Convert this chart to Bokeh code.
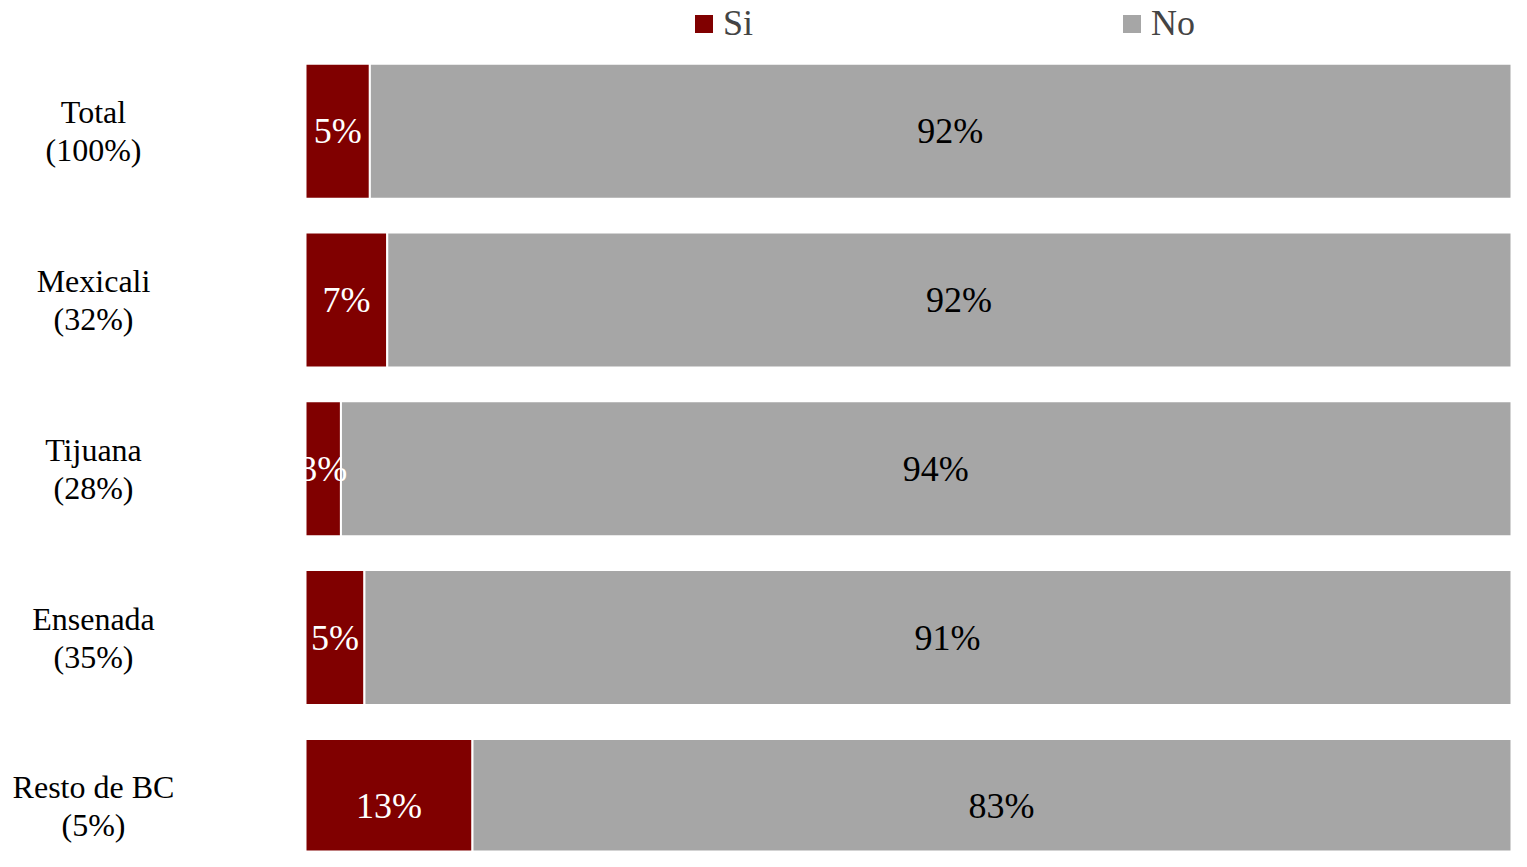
from bokeh.plotting import figure
from bokeh.models import ColumnDataSource, Range1d, Legend, LegendItem
from bokeh.core.properties import value
from bokeh.embed import file_html
from bokeh.resources import INLINE

# ---- data ----
categories = ["Total", "Mexicali", "Tijuana", "Ensenada", "Resto de BC"]
sample_share = [100, 32, 28, 35, 5]
si = [5.1, 6.6, 2.8, 4.6, 13.1]
no = [92.0, 92.3, 94.0, 91.0, 83.0]
series = ["Si", "No"]
colors = ["#800000", "#A6A6A6"]

rows = list(range(len(categories)))
si_end = [s / (s + n) * 100 for s, n in zip(si, no)]
src = ColumnDataSource(dict(
    row=rows,
    si_end=si_end,
    si_mid=[e / 2 for e in si_end],
    no_mid=[(e + 100) / 2 for e in si_end],
    si_label=[f"{round(v)}%" for v in si],
    no_label=[f"{round(v)}%" for v in no],
    cat_label=[f"{c}\n({w}%)" for c, w in zip(categories, sample_share)],
))

FONT_NAME = "Liberation Serif"
FONT = value(FONT_NAME)

p = figure(width=1511, height=851,
           x_range=Range1d(-24.898, 98.449),
           y_range=Range1d(4.2672, -0.7743),
           x_axis_location=None, y_axis_location=None,
           output_backend="svg", toolbar_location=None,
           min_border=0, tools="")
p.grid.visible = False
p.outline_line_color = None
p.background_fill_color = "white"
p.border_fill_color = "white"

r_si = p.hbar(y="row", left=0, right="si_end", height=0.8, source=src,
              fill_color=colors[0], line_color="white", line_width=2)
r_no = p.hbar(y="row", left="si_end", right=100, height=0.8, source=src,
              fill_color=colors[1], line_color="white", line_width=2)

p.text(x="si_mid", y="row", text="si_label", source=src, text_color="white",
       text_font=FONT, text_font_size="36px", text_align="center",
       text_baseline="middle")
p.text(x="no_mid", y="row", text="no_label", source=src, text_color="black",
       text_font=FONT, text_font_size="36px", text_align="center",
       text_baseline="middle")
p.text(x=-17.306, y="row", text="cat_label", source=src, text_color="black",
       text_font=FONT, text_font_size="32px", text_align="center",
       text_baseline="middle", text_line_height=1.06)

legend = Legend(items=[LegendItem(label=series[0], renderers=[r_si]),
                       LegendItem(label=series[1], renderers=[r_no])],
                location=(691, 807), orientation="horizontal",
                padding=0, margin=0, spacing=366, label_standoff=7,
                glyph_width=25, glyph_height=25,
                label_text_font=FONT_NAME, label_text_font_size="36px",
                border_line_alpha=0, background_fill_alpha=0)
p.add_layout(legend)

open("out.html", "w").write(file_html(p, INLINE))
